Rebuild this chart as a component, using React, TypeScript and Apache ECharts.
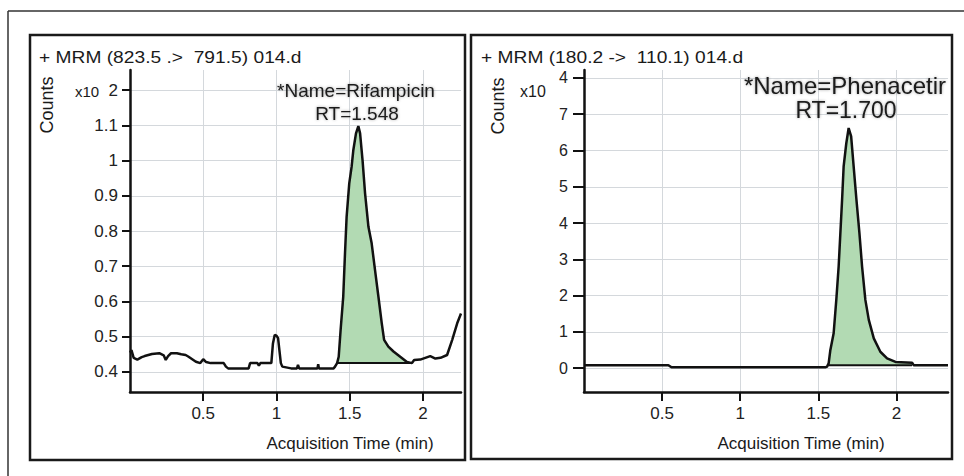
import React, { useEffect, useRef } from "react";
import * as echarts from "echarts";

// ---------- data ----------
// Left panel: + MRM (823.5 -> 791.5), Rifampicin, counts x10^2
const leftTime = [
  0, 0.01, 0.025, 0.05, 0.08, 0.1, 0.15, 0.2, 0.23, 0.244, 0.26, 0.28, 0.32, 0.35, 0.38, 0.4,
  0.45, 0.48, 0.5, 0.52, 0.55, 0.6, 0.64, 0.655, 0.67, 0.75, 0.81, 0.82, 0.87, 0.88, 0.89,
  0.965, 0.976, 0.988, 1.0, 1.011, 1.02, 1.03, 1.04, 1.1, 1.14, 1.147, 1.155, 1.28, 1.285,
  1.29, 1.39, 1.4, 1.414, 1.425, 1.438, 1.456, 1.468, 1.479, 1.497, 1.513, 1.525, 1.543,
  1.559, 1.571, 1.588, 1.605, 1.628, 1.65, 1.673, 1.696, 1.719, 1.735, 1.764, 1.799, 1.845,
  1.891, 1.925, 1.94, 1.982, 2.05, 2.085, 2.12, 2.165, 2.2, 2.234, 2.26,
];
const leftCounts = [
  0.455, 0.462, 0.44, 0.435, 0.442, 0.445, 0.451, 0.453, 0.447, 0.434, 0.445, 0.453, 0.453,
  0.45, 0.448, 0.443, 0.429, 0.425, 0.436, 0.428, 0.425, 0.425, 0.425, 0.415, 0.41, 0.41,
  0.41, 0.425, 0.425, 0.418, 0.425, 0.425, 0.481, 0.505, 0.503, 0.496, 0.462, 0.425, 0.415,
  0.41, 0.41, 0.42, 0.41, 0.41, 0.422, 0.41, 0.41, 0.415, 0.425, 0.443, 0.519, 0.614, 0.737,
  0.84, 0.935, 0.982, 1.03, 1.077, 1.098, 1.077, 1.0, 0.907, 0.812, 0.765, 0.689, 0.614,
  0.538, 0.491, 0.472, 0.458, 0.443, 0.428, 0.425, 0.434, 0.435, 0.445, 0.438, 0.44, 0.448,
  0.491, 0.538, 0.566,
];
const leftPeakStart = 1.414;
const leftPeakEnd = 1.925;
const leftPeakBase = 0.425;

// Right panel: + MRM (180.2 -> 110.1), Phenacetin, counts x10^4
const rightTime = [
  0, 0.54, 0.56, 1.545, 1.556, 1.566, 1.577, 1.598, 1.615, 1.63, 1.641, 1.652, 1.662, 1.679,
  1.694, 1.71, 1.726, 1.744, 1.763, 1.78, 1.801, 1.823, 1.855, 1.897, 1.94, 1.994, 2.1, 2.11,
  2.33,
];
const rightCounts = [
  0.08, 0.08, 0.02, 0.02, 0.04, 0.13, 0.5, 0.96, 1.88, 2.8, 3.72, 4.64, 5.56, 6.2, 6.62, 6.39,
  5.56, 4.64, 3.72, 2.8, 1.88, 1.33, 0.82, 0.45, 0.27, 0.17, 0.15, 0.08, 0.08,
];
const rightPeakStart = 1.566;
const rightPeakEnd = 2.1;
const rightPeakBase = 0.08;

const xTickValues = [0.5, 1, 1.5, 2];
const leftYTickValues = [0.4, 0.5, 0.6, 0.7, 0.8, 0.9, 1, 1.1, 1.2];
const rightYTickValues = [0, 1, 2, 3, 4, 5, 6, 7, 8];
const leftExponentTick = 1.2;
const leftExponent = "2";
const rightExponentTick = 8;
const rightExponent = "4";

// ---------- helpers ----------
const FONT = "'Liberation Sans', Arial, Helvetica, sans-serif";
const near = (a: number, b: number) => Math.abs(a - b) < 1e-6;

const pairs = (t: number[], v: number[]) => t.map((x, i) => [x, v[i]]);
const windowIdx = (t: number[], s: number, e: number) =>
  t.map((x, i) => i).filter((i) => t[i] >= s - 1e-9 && t[i] <= e + 1e-9);

function peakSeries(
  t: number[],
  v: number[],
  s: number,
  e: number,
  base: number,
  axis: number
) {
  const idx = windowIdx(t, s, e);
  return [
    {
      type: "line",
      xAxisIndex: axis,
      yAxisIndex: axis,
      symbol: "none",
      z: 2,
      lineStyle: { width: 0, opacity: 0 },
      areaStyle: { color: "#b2dab3", opacity: 1, origin: base },
      data: idx.map((i) => [t[i], Math.max(base, v[i])]),
    },
    {
      type: "line",
      xAxisIndex: axis,
      yAxisIndex: axis,
      symbol: "none",
      z: 3,
      lineStyle: { color: "#111", width: 2 },
      data: [
        [t[idx[0]], base],
        [t[idx[idx.length - 1]], base],
      ],
    },
  ];
}

function xAxis(grid: number, max: number) {
  return {
    type: "value",
    gridIndex: grid,
    min: 0,
    max,
    interval: 0.5,
    axisLine: { show: true, onZero: false, lineStyle: { color: "#111", width: 2.5 } },
    axisTick: {
      show: true,
      length: 9,
      customValues: xTickValues,
      lineStyle: { color: "#111", width: 2 },
    },
    axisLabel: {
      customValues: xTickValues,
      margin: 13,
      fontSize: 17,
      fontFamily: FONT,
      color: "#222",
      formatter: (v: number) => (xTickValues.some((x) => near(x, v)) ? String(v) : ""),
    },
    splitLine: {
      show: true,
      lineStyle: { color: "#d4d8dc", width: 1 },
    },
  };
}

function yAxis(
  grid: number,
  min: number,
  max: number,
  splitNumber: number,
  ticks: number[],
  expTick: number,
  exp: string,
  tickLen: number,
  margin: number,
  fontSize: number
) {
  return {
    type: "value",
    gridIndex: grid,
    min,
    max,
    splitNumber,
    axisLine: { show: true, lineStyle: { color: "#111", width: 2.5 } },
    axisTick: {
      show: true,
      length: tickLen,
      customValues: ticks,
      lineStyle: { color: "#111", width: 2 },
    },
    axisLabel: {
      customValues: ticks,
      margin,
      fontSize,
      fontFamily: FONT,
      color: "#222",
      formatter: (v: number) => {
        if (near(v, expTick)) return exp;
        return ticks.some((x) => near(x, v)) ? String(Math.round(v * 10) / 10) : "";
      },
    },
    splitLine: {
      show: true,
      lineStyle: { color: "#d4d8dc", width: 1 },
    },
  };
}

const txt = (
  x: number,
  y: number,
  text: string,
  fontSize: number,
  align: string = "left",
  extra: any = {}
) => ({
  type: "text",
  x,
  y,
  z: 10,
  ...extra,
  style: {
    text,
    fontSize,
    fontFamily: FONT,
    fill: "#1a1a1a",
    align,
    verticalAlign: "middle",
    ...(extra.style || {}),
  },
});

export default function App() {
  const ref = useRef<HTMLDivElement>(null);

  useEffect(() => {
    if (!ref.current) return;
    const chart = echarts.init(ref.current, undefined, { renderer: "svg" });

    const halo = { textShadowColor: "rgba(0,0,0,0.35)", textShadowBlur: 3 };

    chart.setOption({
      animation: false,
      backgroundColor: "#ffffff",
      grid: [
        { left: 130, top: 70, width: 331, height: 322, containLabel: false },
        { left: 584, top: 70, width: 364, height: 322, containLabel: false },
      ],
      xAxis: [xAxis(0, 2.26), xAxis(1, 2.33)],
      yAxis: [
        yAxis(0, 0.343, 1.257, 9, leftYTickValues, leftExponentTick, leftExponent, 8, 12, 17),
        yAxis(1, -0.66, 8.22, 8, rightYTickValues, rightExponentTick, rightExponent, 11, 16, 16),
      ],
      series: [
        ...peakSeries(leftTime, leftCounts, leftPeakStart, leftPeakEnd, leftPeakBase, 0),
        {
          type: "line",
          xAxisIndex: 0,
          yAxisIndex: 0,
          symbol: "none",
          z: 5,
          lineStyle: { color: "#111", width: 2.5 },
          data: pairs(leftTime, leftCounts),
        },
        ...peakSeries(rightTime, rightCounts, rightPeakStart, rightPeakEnd, rightPeakBase, 1),
        {
          type: "line",
          xAxisIndex: 1,
          yAxisIndex: 1,
          symbol: "none",
          z: 5,
          lineStyle: { color: "#111", width: 2.5 },
          data: pairs(rightTime, rightCounts),
        },
      ],
      graphic: [
        { type: "line", shape: { x1: 8, y1: 11, x2: 964, y2: 11 }, style: { stroke: "#333", lineWidth: 1.5 } },
        { type: "line", shape: { x1: 8, y1: 11, x2: 8, y2: 476 }, style: { stroke: "#333", lineWidth: 1.5 } },
        {
          type: "rect",
          shape: { x: 30, y: 35, width: 435, height: 425 },
          style: { fill: "transparent", stroke: "#1a1a1a", lineWidth: 2.5 },
        },
        {
          type: "rect",
          shape: { x: 471, y: 35, width: 481, height: 424 },
          style: { fill: "transparent", stroke: "#1a1a1a", lineWidth: 2.5 },
        },
        // left panel texts
        txt(39, 57, "+ MRM (823.5 .>  791.5) 014.d", 17, "left", { scaleX: 1.13 }),
        txt(47, 105, "Counts", 18, "center", { rotation: Math.PI / 2 }),
        txt(75, 91, "x10", 15),
        txt(356, 90, "*Name=Rifampicin", 19, "center", { style: halo }),
        txt(357, 113, "RT=1.548", 19, "center", { style: halo }),
        txt(350, 443, "Acquisition Time (min)", 17, "center"),
        // right panel texts
        txt(481, 57, "+ MRM (180.2 ->  110.1) 014.d", 17, "left", { scaleX: 1.13 }),
        txt(498, 106, "Counts", 18, "center", { rotation: Math.PI / 2 }),
        txt(520, 91, "x10", 16),
        txt(845, 85, "*Name=Phenacetir", 24, "center", { style: halo }),
        txt(846, 110, "RT=1.700", 23, "center", { style: halo }),
        txt(801, 443, "Acquisition Time (min)", 17, "center"),
      ],
    });

    return () => chart.dispose();
  }, []);

  return (
    <div
      ref={ref}
      style={{ position: "fixed", left: 0, top: 0, width: 964, height: 476, background: "#fff" }}
    />
  );
}
